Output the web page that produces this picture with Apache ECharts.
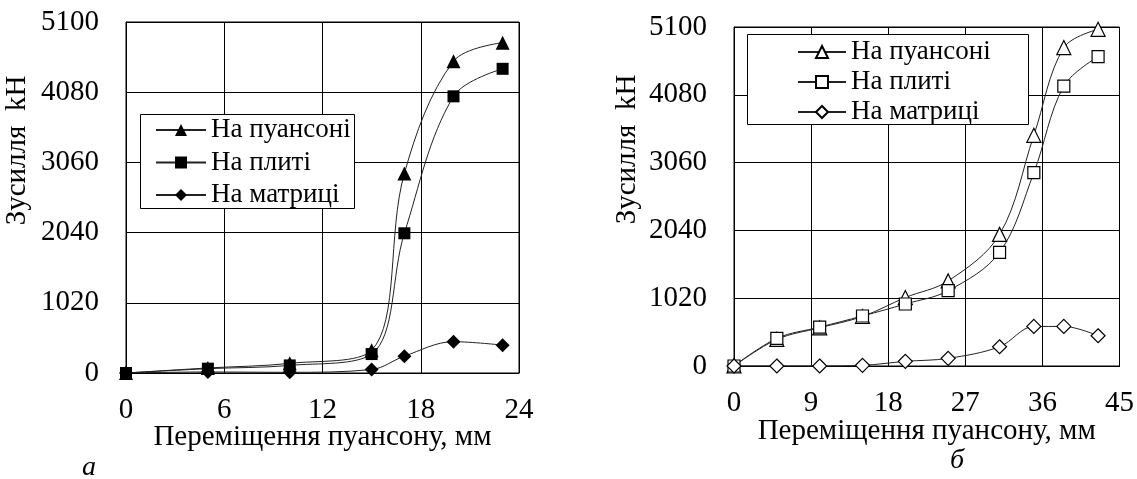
<!DOCTYPE html>
<html>
<head>
<meta charset="utf-8">
<script src="https://cdn.jsdelivr.net/npm/echarts@6/dist/echarts.min.js"></script>
<style>
html,body{margin:0;padding:0;background:#fff;}
#c{width:1137px;height:479px;}
</style>
</head>
<body>
<div id="c"></div>
<script>
// ---- data ----
var seriesNames = ['На пуансоні', 'На плиті', 'На матриці'];
var xTitle = 'Переміщення пуансону, мм';
var yTitle = 'Зусилля  kН';

// chart а
var xA = [0, 5, 10, 15, 17, 20, 23];
var punchA = [0, 73, 140, 330, 2900, 4530, 4800];
var plateA = [0, 63, 110, 275, 2030, 4020, 4420];
var dieA = [0, 15, 10, 50, 245, 455, 405];

// chart б
var xB = [0, 5, 10, 15, 20, 25, 31, 35, 38.5, 42.5];
var punchB = [0, 400, 575, 745, 1030, 1280, 1980, 3470, 4790, 5065];
var plateB = [0, 416, 585, 752, 933, 1133, 1710, 2908, 4212, 4653];
var dieB = [0, 0, 0, 10, 70, 115, 290, 595, 595, 455];

var xTicksA = {min: 0, max: 24, interval: 6};
var xTicksB = {min: 0, max: 45, interval: 9};
var yTicks = {min: 0, max: 5100, interval: 1020};

function pairs(xs, ys) { return xs.map(function (x, i) { return [x, ys[i]]; }); }

var FONT = 'Liberation Serif';
var FS = 29;
var LFS = 27;

function plain(v) { return String(v); }

function xAxisCfg(idx, t, gap) {
  return {
    type: 'value', gridIndex: idx, min: t.min, max: t.max, interval: t.interval,
    name: xTitle, nameLocation: 'middle', nameGap: gap, nameMoveOverlap: false,
    nameTextStyle: {fontFamily: FONT, fontSize: FS, color: '#000'},
    axisLine: {lineStyle: {color: '#000', width: 1}},
    axisTick: {show: false},
    axisLabel: {fontFamily: FONT, fontSize: FS, color: '#000', margin: 23, formatter: plain},
    splitLine: {show: true, lineStyle: {color: '#000', width: 1}}
  };
}
function yAxisCfg(idx, gap) {
  return {
    type: 'value', gridIndex: idx, min: yTicks.min, max: yTicks.max, interval: yTicks.interval,
    name: yTitle, nameLocation: 'middle', nameGap: gap, nameRotate: 90, nameMoveOverlap: false,
    nameTextStyle: {fontFamily: FONT, fontSize: FS, color: '#000', padding: [0, 0, 0, 94]},
    axisLine: {lineStyle: {color: '#000', width: 1}},
    axisTick: {show: false},
    axisLabel: {fontFamily: FONT, fontSize: FS, color: '#000', margin: 27, formatter: plain},
    splitLine: {show: true, lineStyle: {color: '#000', width: 1}}
  };
}

var symbols = ['triangle', 'rect', 'diamond'];
var sizes = [14, 12, 14];

function mkSeries(name, data, idx, k, hollow) {
  return {
    type: 'line', name: name, xAxisIndex: idx, yAxisIndex: idx,
    data: data, smooth: 0.35,
    symbol: symbols[k], symbolSize: sizes[k],
    lineStyle: {color: '#222', width: 1},
    itemStyle: hollow ? {color: '#fff', borderColor: '#000', borderWidth: 1.2}
                      : {color: '#000', borderColor: '#000', borderWidth: 0},
    animation: false
  };
}

var legendText = {fontFamily: FONT, fontSize: LFS, color: '#000', lineHeight: 28};

var chart = echarts.init(document.getElementById('c'), null, {renderer: 'canvas'});
var option = {
  backgroundColor: '#fff',
  animation: false,
  textStyle: {fontFamily: FONT},
  grid: [
    {left: 126, top: 22, width: 393, height: 351, show: true, borderColor: '#000', borderWidth: 1, backgroundColor: 'transparent'},
    {left: 734, top: 27, width: 387, height: 339, show: true, borderColor: '#000', borderWidth: 1, backgroundColor: 'transparent'}
  ],
  xAxis: [xAxisCfg(0, xTicksA, 50), xAxisCfg(1, xTicksB, 51)],
  yAxis: [yAxisCfg(0, 94), yAxisCfg(1, 92)],
  legend: [
    {
      data: seriesNames.slice(),
      orient: 'vertical', left: 155, top: 116, z: 10,
      padding: 0, itemGap: 4.5, itemWidth: 50, itemHeight: 15,
      textStyle: legendText,
      selectedMode: false
    },
    {
      data: seriesNames.map(function (n) { return n + ' '; }),
      orient: 'vertical', left: 797, top: 38, z: 10,
      padding: 0, itemGap: 2, itemWidth: 48, itemHeight: 15,
      textStyle: legendText,
      selectedMode: false
    }
  ],
  series: [
    mkSeries(seriesNames[0], pairs(xA, punchA), 0, 0, false),
    mkSeries(seriesNames[1], pairs(xA, plateA), 0, 1, false),
    mkSeries(seriesNames[2], pairs(xA, dieA), 0, 2, false),
    mkSeries(seriesNames[0] + ' ', pairs(xB, punchB), 1, 0, true),
    mkSeries(seriesNames[1] + ' ', pairs(xB, plateB), 1, 1, true),
    mkSeries(seriesNames[2] + ' ', pairs(xB, dieB), 1, 2, true)
  ],
  graphic: [
    {type: 'rect', z: 5, shape: {x: 140.5, y: 114.5, width: 214, height: 94},
     style: {fill: '#fff', stroke: '#000', lineWidth: 1}},
    {type: 'rect', z: 5, shape: {x: 747.5, y: 34.5, width: 281, height: 90},
     style: {fill: '#fff', stroke: '#000', lineWidth: 1}},
    {type: 'text', left: 82, top: 454, style: {text: 'а', font: 'italic 28px "Liberation Serif"', fill: '#000'}},
    {type: 'text', left: 950, top: 447, style: {text: 'б', font: 'italic 28px "Liberation Serif"', fill: '#000'}}
  ]
};
chart.setOption(option);
</script>
</body>
</html>
